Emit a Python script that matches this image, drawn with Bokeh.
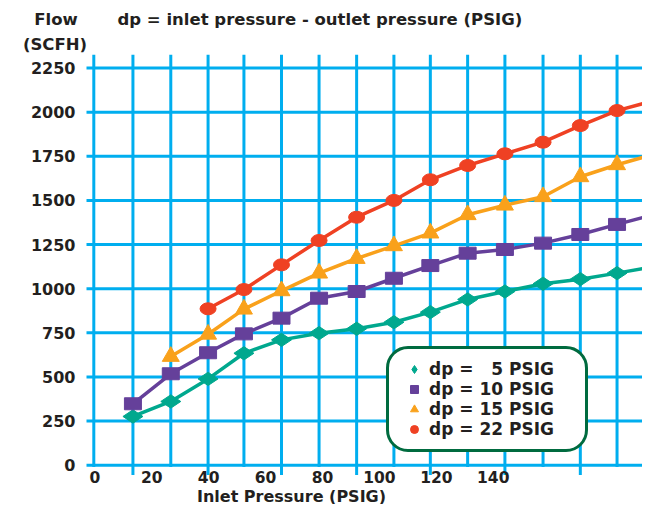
import math
from bokeh.plotting import figure
from bokeh.models import FixedTicker, Label, Legend, LegendItem
from bokeh.embed import file_html
from bokeh.resources import INLINE

# ---------------- data ----------------
inlet_psig = [13.4, 26.7, 39.8, 52.4, 65.6, 78.8, 92.0, 105.1, 117.9,
              131.0, 144.1, 157.5, 170.6, 183.5, 196.6]
flow_dp5 = [276, 361, 489, 634, 710, 748, 773, 810, 867, 939, 984, 1028, 1054, 1088, 1126]
flow_dp10 = [348, 518, 637, 744, 833, 946, 984, 1059, 1131, 1201, 1222, 1258, 1307, 1364, 1420]
flow_dp15 = [616, 742, 884, 988, 1088, 1171, 1243, 1315, 1419, 1473, 1521, 1634, 1702, 1762]
flow_dp22 = [886, 995, 1135, 1273, 1405, 1500, 1617, 1698, 1764, 1830, 1924, 2009, 2066]
series_labels = ["dp = \u20075 PSIG", "dp = 10 PSIG", "dp = 15 PSIG", "dp = 22 PSIG"]
x_ticks = [0, 20, 40, 60, 80, 100, 120, 140]
y_ticks = [0, 250, 500, 750, 1000, 1250, 1500, 1750, 2000, 2250]
grid_x = [-0.35] + inlet_psig

# ---------------- styling / geometry ----------------
FONT = "DejaVu Sans"
TXT = "#231f20"
GRID = "#00aeef"
TEAL, PURPLE, ORANGE, RED = "#00a88e", "#65409a", "#f9a11b", "#ef4123"

W, H = 642, 504
X_PX0, X_SCALE = 94.3, 2.846          # canvas px of x=0, px per PSIG
Y_PX0, Y_SCALE = 464.7, 44.13 / 250   # canvas px of y=0, px per SCFH


def dx(px):
    return (px - X_PX0) / X_SCALE


def dy(py):
    return (Y_PX0 - py) / Y_SCALE


p = figure(width=W, height=H, x_range=(dx(0), dx(W)), y_range=(dy(H), dy(0)),
           output_backend="svg", toolbar_location=None,
           min_border_left=0, min_border_right=0, min_border_top=0, min_border_bottom=0)
p.title.visible = False
p.outline_line_color = None
p.background_fill_color = "white"
p.border_fill_color = "white"
p.xgrid.visible = False
p.ygrid.visible = False

GRID_LEFT = dx(86)
GRID_TOP = dy(54.3)

# horizontal grid lines
p.segment(x0=[GRID_LEFT] * len(y_ticks), y0=y_ticks, x1=[dx(W + 20)] * len(y_ticks), y1=y_ticks,
          line_color=GRID, line_width=3)
# vertical grid lines (every other one runs a bit below the zero line)
grid_bottom = [(dy(474.5) if i % 2 == 1 else dy(466.5)) for i in range(len(grid_x))]
p.segment(x0=grid_x, y0=grid_bottom, x1=grid_x, y1=[GRID_TOP] * len(grid_x),
          line_color=GRID, line_width=3)

# y axis, drawn at the left end of the grid
ya = p.yaxis[0]
ya.ticker = FixedTicker(ticks=y_ticks)
ya.fixed_location = GRID_LEFT
ya.axis_line_color = None
ya.major_tick_line_color = None
ya.minor_tick_line_color = None
ya.major_label_standoff = 5
ya.major_label_text_font = FONT
ya.major_label_text_font_style = "bold"
ya.major_label_text_font_size = "16px"
ya.major_label_text_color = TXT

# x axis, drawn at y = 0
xa = p.xaxis[0]
xa.ticker = FixedTicker(ticks=x_ticks)
xa.fixed_location = 0
xa.bounds = (-2.9, 141.1)
xa.axis_line_color = None
xa.major_tick_line_color = None
xa.minor_tick_line_color = None
xa.major_label_standoff = 0
xa.major_label_text_font = FONT
xa.major_label_text_font_style = "bold"
xa.major_label_text_font_size = "15.5px"
xa.major_label_text_color = TXT
xa.axis_label = "Inlet Pressure (PSIG)"
xa.axis_label_standoff = 0
xa.axis_label_text_font = FONT
xa.axis_label_text_font_style = "bold"
xa.axis_label_text_font_size = "16px"
xa.axis_label_text_color = TXT

# series
LW = 3.5
p.line(inlet_psig, flow_dp5, line_color=TEAL, line_width=LW)
p.line(inlet_psig, flow_dp10, line_color=PURPLE, line_width=LW)
p.line(inlet_psig[1:], flow_dp15, line_color=ORANGE, line_width=LW)
p.line(inlet_psig[2:], flow_dp22, line_color=RED, line_width=LW)

r5 = p.scatter(inlet_psig, flow_dp5, marker="diamond", size=20, angle=math.pi / 2,
               fill_color=TEAL, line_color=TEAL)
p.rect(inlet_psig, flow_dp10, width=17, height=12, width_units="screen", height_units="screen",
       fill_color=PURPLE, line_color=PURPLE)
r15 = p.scatter(inlet_psig[1:], flow_dp15, marker="triangle", size=17,
                fill_color=ORANGE, line_color=ORANGE)
p.ellipse(inlet_psig[2:], flow_dp22, width=16, height=12, width_units="screen",
          height_units="screen", fill_color=RED, line_color=RED)
# legend stand-ins (not drawn in the plot)
r10 = p.scatter(inlet_psig, flow_dp10, marker="square", size=13,
                fill_color=PURPLE, line_color=PURPLE, visible=False)
r22 = p.scatter(inlet_psig[2:], flow_dp22, marker="circle", size=13,
                fill_color=RED, line_color=RED, visible=False)

legend = Legend(items=[LegendItem(label=series_labels[0], renderers=[r5]),
                       LegendItem(label=series_labels[1], renderers=[r10]),
                       LegendItem(label=series_labels[2], renderers=[r15]),
                       LegendItem(label=series_labels[3], renderers=[r22])],
                location=(386, H - 452), orientation="vertical",
                border_line_color="#006b3f", border_line_width=3, border_line_alpha=1.0,
                background_fill_color="white", background_fill_alpha=1.0,
                padding=10, spacing=0, margin=0,
                glyph_width=30, glyph_height=20, label_height=20, label_width=146,
                label_standoff=0, label_text_font=FONT, label_text_font_style="bold",
                label_text_font_size="17px", label_text_color=TXT)
try:
    legend.border_radius = 22
except Exception:
    pass
p.add_layout(legend)

for txt, px, py, align in [("Flow", 55.5, 19, "center"),
                           ("(SCFH)", 54.5, 44, "center"),
                           ("dp = inlet pressure - outlet pressure (PSIG)", 117, 19, "left")]:
    p.add_layout(Label(x=dx(px), y=dy(py), text=txt, text_align=align,
                       text_baseline="alphabetic", text_font=FONT, text_font_style="bold",
                       text_font_size="16.5px", text_color=TXT))

open("out.html", "w").write(file_html(p, INLINE))
